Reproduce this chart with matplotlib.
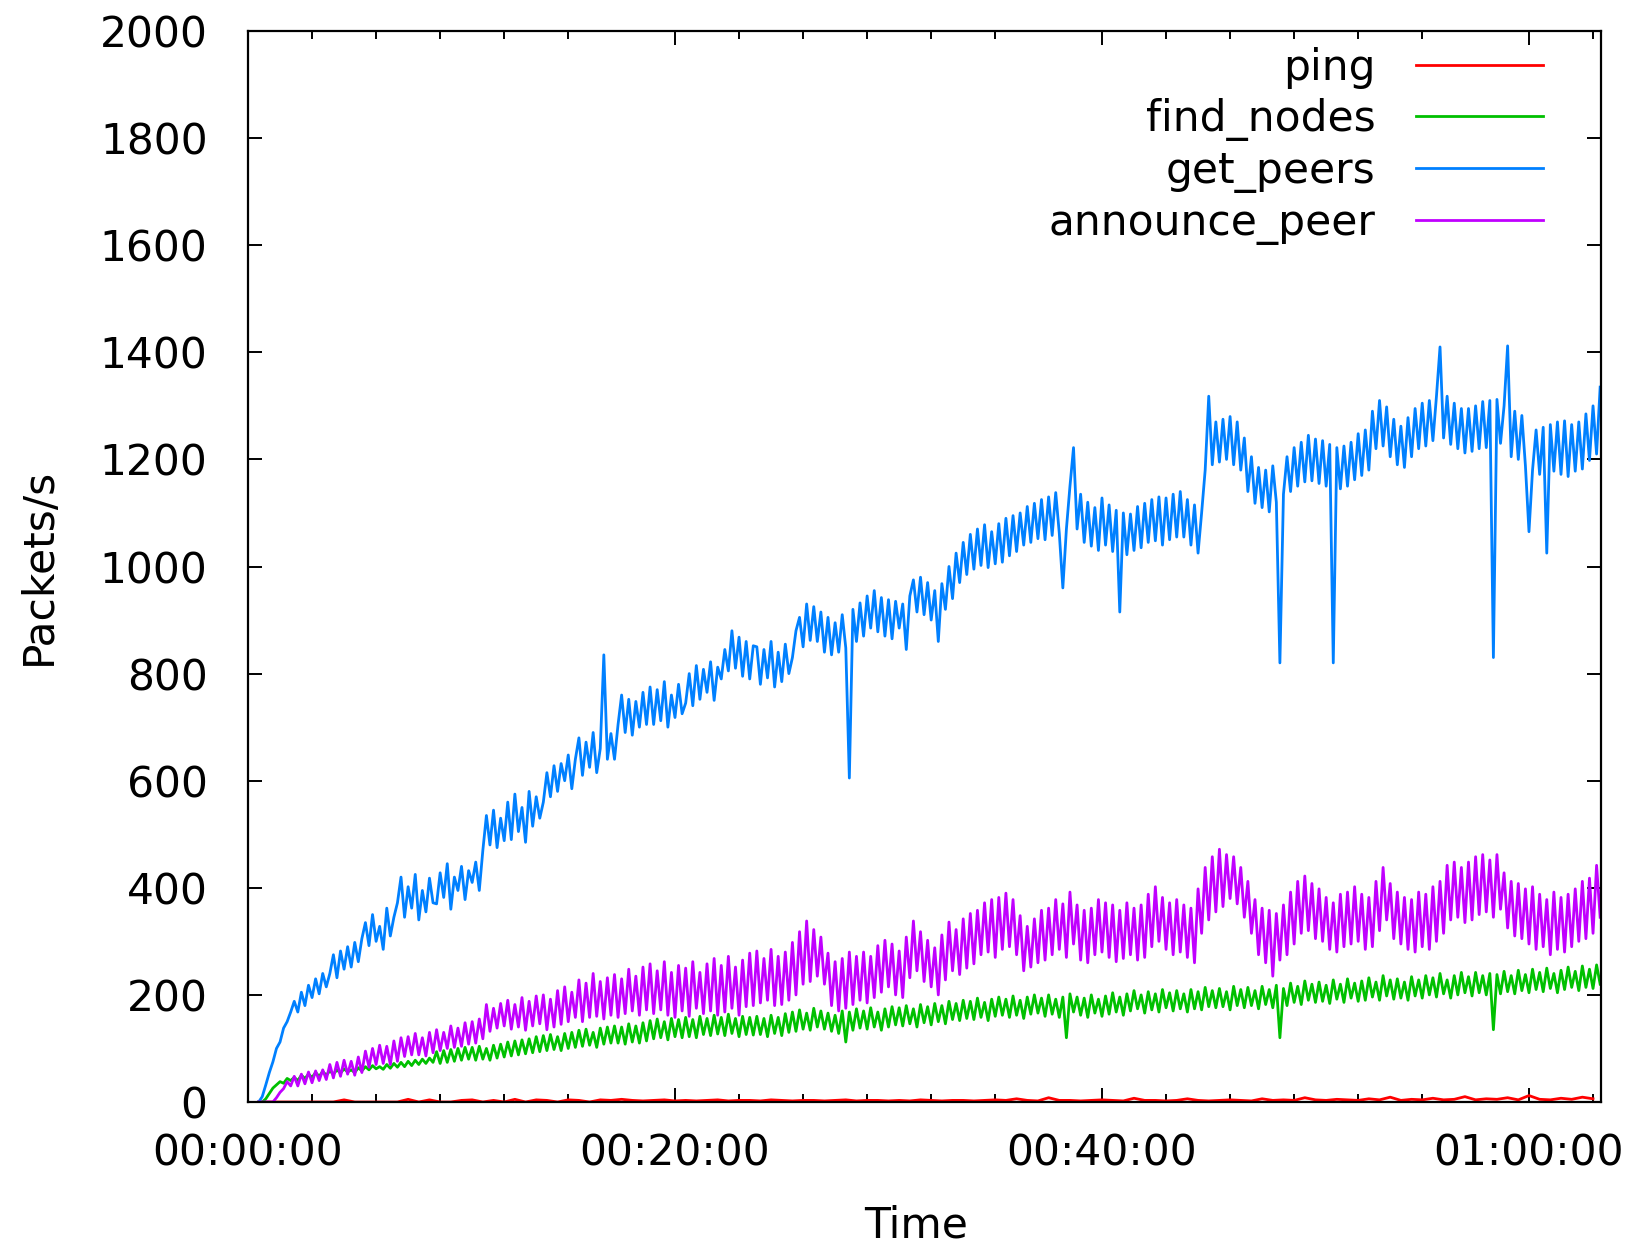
import numpy as np
import matplotlib
matplotlib.use("Agg")
import matplotlib.pyplot as plt

# ---------------- data (packets/s, sampled every 10 s starting at 30 s) ----------------
T_START, T_STEP = 30, 10

get_peers = [
    0, 10, 32, 55, 75, 100, 112, 138, 150, 168,
    188, 168, 205, 180, 218, 195, 230, 202, 240, 215,
    240, 275, 232, 282, 248, 290, 252, 298, 262, 305,
    335, 292, 350, 300, 328, 285, 362, 310, 345, 372,
    420, 345, 402, 362, 425, 340, 395, 355, 418, 372,
    370, 428, 382, 445, 360, 420, 395, 440, 378, 432,
    410, 448, 395, 470, 535, 480, 545, 475, 530, 488,
    560, 490, 575, 505, 550, 485, 580, 515, 570, 530,
    560, 615, 570, 628, 580, 632, 600, 648, 585, 640,
    680, 610, 672, 625, 690, 615, 660, 835, 640, 688,
    640, 705, 760, 690, 752, 685, 748, 700, 765, 705,
    775, 705, 770, 712, 785, 700, 760, 718, 780, 725,
    745, 800, 740, 815, 752, 808, 765, 822, 750, 812,
    790, 845, 805, 880, 810, 868, 795, 860, 790, 852,
    850, 780, 845, 792, 860, 775, 840, 785, 855, 800,
    830, 880, 905, 850, 930, 862, 925, 860, 915, 840,
    905, 835, 895, 840, 910, 848, 605, 920, 860, 932,
    870, 945, 885, 955, 878, 942, 870, 938, 865, 935,
    885, 930, 845, 945, 975, 915, 980, 910, 970, 900,
    955, 860, 968, 920, 1000, 940, 1025, 970, 1045, 985,
    1060, 995, 1070, 1002, 1078, 998, 1065, 1005, 1080, 1008,
    1090, 1020, 1095, 1028, 1100, 1040, 1112, 1045, 1118, 1052,
    1125, 1050, 1130, 1058, 1138, 1062, 960, 1070, 1150, 1222,
    1070, 1135, 1045, 1120, 1038, 1110, 1030, 1128, 1040, 1115,
    1028, 1105, 915, 1100, 1022, 1098, 1030, 1112, 1035, 1118,
    1045, 1125, 1048, 1130, 1040, 1128, 1050, 1135, 1055, 1140,
    1055, 1125, 1040, 1115, 1025, 1100, 1180, 1318, 1190, 1270,
    1195, 1275, 1200, 1280, 1190, 1270, 1180, 1240, 1140, 1205,
    1118, 1185, 1110, 1180, 1102, 1188, 1120, 820, 1135, 1205,
    1140, 1222, 1150, 1232, 1158, 1245, 1160, 1238, 1155, 1235,
    1150, 1228, 820, 1222, 1145, 1225, 1150, 1232, 1162, 1248,
    1170, 1255, 1180, 1290, 1220, 1310, 1225, 1298, 1205, 1275,
    1190, 1262, 1185, 1278, 1205, 1295, 1220, 1305, 1225, 1310,
    1235, 1318, 1410, 1240, 1318, 1228, 1305, 1220, 1295, 1212,
    1295, 1215, 1300, 1220, 1308, 1222, 1310, 830, 1312, 1230,
    1300, 1412, 1205, 1290, 1200, 1282, 1188, 1065, 1180, 1255,
    1172, 1260, 1025, 1265, 1178, 1270, 1172, 1272, 1168, 1265,
    1178, 1270, 1182, 1285, 1198, 1300, 1210, 1335,
]

announce_peer = [
    0, 0, 0, 0, 0, 8, 18, 25, 38, 30,
    48, 30, 52, 34, 56, 36, 58, 40, 60, 42,
    70, 45, 74, 48, 78, 52, 76, 50, 84, 55,
    95, 65, 100, 70, 106, 72, 104, 70, 114, 76,
    120, 85, 122, 88, 128, 88, 120, 86, 130, 92,
    135, 96, 130, 100, 142, 102, 138, 104, 148, 108,
    150, 110, 155, 118, 182, 132, 175, 138, 184, 142,
    190, 136, 182, 140, 195, 134, 188, 142, 198, 146,
    200, 135, 192, 140, 208, 145, 215, 150, 205, 158,
    228, 150, 222, 158, 240, 160, 225, 155, 232, 162,
    238, 158, 230, 165, 248, 170, 235, 162, 252, 172,
    258, 165, 245, 172, 262, 162, 242, 158, 255, 170,
    250, 160, 262, 175, 242, 165, 258, 170, 268, 162,
    255, 168, 272, 175, 252, 162, 265, 178, 278, 180,
    282, 185, 268, 190, 285, 180, 272, 182, 280, 190,
    298, 200, 318, 220, 338, 225, 322, 235, 308, 220,
    278, 180, 262, 170, 268, 175, 280, 182, 272, 190,
    280, 185, 272, 195, 292, 205, 302, 215, 295, 200,
    282, 195, 308, 232, 338, 245, 318, 225, 302, 215,
    288, 200, 312, 228, 336, 245, 322, 238, 342, 250,
    352, 258, 358, 275, 372, 280, 378, 270, 382, 285,
    390, 290, 378, 275, 348, 245, 328, 252, 342, 260,
    358, 265, 362, 275, 378, 285, 370, 270, 392, 295,
    368, 265, 358, 260, 362, 275, 378, 280, 372, 270,
    368, 262, 358, 268, 372, 275, 362, 265, 368, 270,
    388, 290, 402, 300, 382, 285, 372, 275, 378, 280,
    368, 270, 362, 260, 398, 315, 438, 340, 458, 355,
    472, 365, 462, 380, 458, 370, 438, 345, 412, 315,
    378, 275, 362, 260, 358, 235, 352, 265, 368, 275,
    392, 295, 412, 315, 422, 320, 408, 305, 398, 300,
    382, 285, 372, 280, 388, 290, 392, 295, 402, 300,
    388, 285, 382, 290, 412, 320, 438, 340, 408, 305,
    392, 295, 382, 285, 378, 280, 392, 290, 388, 285,
    402, 300, 412, 315, 442, 340, 448, 345, 438, 335,
    448, 340, 458, 350, 462, 355, 452, 345, 462, 360,
    428, 325, 412, 310, 408, 305, 398, 295, 402, 285,
    388, 290, 378, 275, 392, 285, 382, 280, 388, 290,
    398, 300, 412, 305, 418, 315, 442, 345,
]

find_nodes = [
    0, 0, 6, 16, 26, 32, 38, 35, 44, 40,
    46, 40, 50, 44, 52, 46, 55, 48, 57, 50,
    58, 52, 60, 54, 62, 56, 60, 55, 64, 58,
    66, 60, 68, 62, 66, 61, 70, 63, 72, 65,
    74, 66, 76, 68, 78, 70, 80, 72, 82, 74,
    94, 72, 96, 74, 98, 76, 100, 78, 102, 80,
    102, 78, 104, 80, 100, 78, 106, 82, 108, 84,
    112, 86, 114, 88, 116, 90, 118, 92, 122, 94,
    124, 96, 126, 98, 122, 96, 128, 100, 130, 102,
    134, 104, 136, 106, 130, 102, 138, 108, 140, 110,
    142, 110, 140, 108, 146, 112, 142, 110, 148, 114,
    152, 118, 155, 120, 150, 116, 156, 122, 154, 120,
    158, 122, 154, 120, 160, 126, 156, 124, 162, 127,
    158, 124, 164, 128, 156, 122, 160, 126, 158, 125,
    160, 126, 156, 122, 162, 128, 158, 124, 165, 130,
    168, 132, 172, 136, 166, 134, 175, 140, 170, 136,
    166, 132, 162, 128, 170, 112, 168, 134, 174, 138,
    170, 136, 176, 140, 168, 134, 174, 140, 178, 144,
    176, 142, 180, 146, 174, 140, 182, 148, 178, 144,
    184, 150, 180, 146, 188, 154, 184, 152, 190, 156,
    188, 154, 194, 158, 186, 152, 192, 160, 196, 162,
    192, 158, 198, 162, 190, 156, 196, 164, 200, 166,
    194, 160, 200, 164, 192, 158, 196, 120, 202, 168,
    196, 162, 194, 158, 200, 166, 192, 160, 198, 164,
    204, 168, 196, 162, 202, 170, 208, 174, 200, 166,
    206, 172, 202, 168, 210, 176, 204, 170, 208, 174,
    202, 168, 210, 174, 206, 172, 214, 178, 208, 176,
    212, 178, 206, 172, 216, 180, 210, 176, 214, 180,
    208, 174, 216, 182, 210, 176, 218, 120, 212, 180,
    222, 186, 216, 182, 226, 190, 220, 186, 224, 188,
    218, 184, 228, 192, 220, 186, 230, 194, 222, 188,
    226, 190, 232, 196, 224, 190, 236, 198, 228, 192,
    230, 194, 224, 190, 234, 198, 228, 194, 236, 200,
    232, 196, 240, 202, 228, 194, 236, 200, 242, 204,
    234, 198, 242, 204, 236, 200, 240, 135, 238, 202,
    244, 206, 236, 202, 246, 208, 238, 204, 248, 210,
    242, 206, 250, 212, 240, 204, 246, 210, 252, 214,
    244, 208, 254, 214, 248, 212, 256, 220,
]

# ping sampled every 30 s starting at 30 s
PING_START, PING_STEP = 30, 30
ping = [
    0, 0, 0, 0, 0, 0, 0, 0, 4, 0,
    0, 0, 0, 0, 5, 0, 4, 0, 0, 3,
    4, 0, 3, 0, 5, 0, 4, 3, 0, 4,
    3, 0, 4, 3, 5, 3, 2, 3, 4, 2,
    3, 2, 3, 4, 2, 3, 3, 2, 4, 3,
    2, 3, 3, 2, 3, 4, 2, 3, 3, 2,
    3, 2, 4, 3, 2, 3, 3, 2, 3, 4,
    3, 6, 3, 2, 8, 3, 3, 2, 3, 4,
    3, 2, 7, 3, 3, 2, 3, 6, 3, 2,
    3, 4, 3, 2, 6, 3, 4, 3, 8, 4,
    3, 5, 4, 3, 6, 4, 9, 3, 5, 4,
    7, 4, 5, 10, 4, 6, 5, 8, 4, 12,
    5, 4, 7, 5, 9, 6,
]

series_names = ["ping", "find_nodes", "get_peers", "announce_peer"]
series_colors = ["#ff0000", "#00c000", "#0080ff", "#c000ff"]

x_tick_seconds = [0, 1200, 2400, 3600]
x_tick_labels = ["00:00:00", "00:20:00", "00:40:00", "01:00:00"]
y_ticks = list(range(0, 2001, 200))

# ---------------- figure ----------------
W, H = 1635, 1248
fig = plt.figure(figsize=(W / 100, H / 100), dpi=100)
plt.rcParams["font.family"] = ["DejaVu Sans"]
FS = 30.5

ax_l, ax_r, ax_t, ax_b = 248, 1600.5, 31, 1102
ax = fig.add_axes([ax_l / W, 1 - ax_b / H, (ax_r - ax_l) / W, (ax_b - ax_t) / H])

t_main = T_START + T_STEP * np.arange(len(get_peers))
t_ping = PING_START + PING_STEP * np.arange(len(ping))

data = {
    "ping": (t_ping, ping),
    "find_nodes": (t_main, find_nodes),
    "get_peers": (t_main, get_peers),
    "announce_peer": (t_main, announce_peer),
}
for name, col in zip(series_names, series_colors):
    tx, vy = data[name]
    ax.plot(tx, vy, color=col, lw=2.0, label=name)

ax.set_xlim(0, 3801)
ax.set_ylim(0, 2000)

ax.set_xticks(x_tick_seconds)
ax.set_xticklabels(x_tick_labels)
minor = [m + k * 180 for m in x_tick_seconds for k in range(1, 6)]
ax.set_xticks([m for m in minor if m < 3801], minor=True)
ax.set_yticks(y_ticks)
ax.set_yticklabels([str(v) for v in y_ticks])

ax.tick_params(which="both", direction="in", top=True, right=True,
               width=1.4, colors="black")
ax.tick_params(which="major", length=10)
ax.tick_params(which="minor", length=5.5)
ax.tick_params(axis="x", which="major", labelsize=FS, pad=22)
ax.tick_params(axis="y", which="major", labelsize=FS, pad=29)
for sp in ax.spines.values():
    sp.set_linewidth(1.6)
    sp.set_zorder(5)

fig.text(39 / W, 1 - 566.5 / H, "Packets/s", rotation=90, ha="center",
         va="center", fontsize=FS)
fig.text(916.5 / W, 1 - 1237 / H, "Time", ha="center", va="baseline",
         fontsize=FS)

leg = ax.legend(loc="upper right", bbox_to_anchor=((1543 - ax_l) / (ax_r - ax_l), 0.985),
                frameon=False, markerfirst=False, fontsize=FS,
                handlelength=3.0, handletextpad=0.95, labelspacing=0.21,
                borderpad=0, borderaxespad=0)
for line in leg.get_lines():
    line.set_linewidth(2.0)

fig.savefig("out.png", dpi=100)
